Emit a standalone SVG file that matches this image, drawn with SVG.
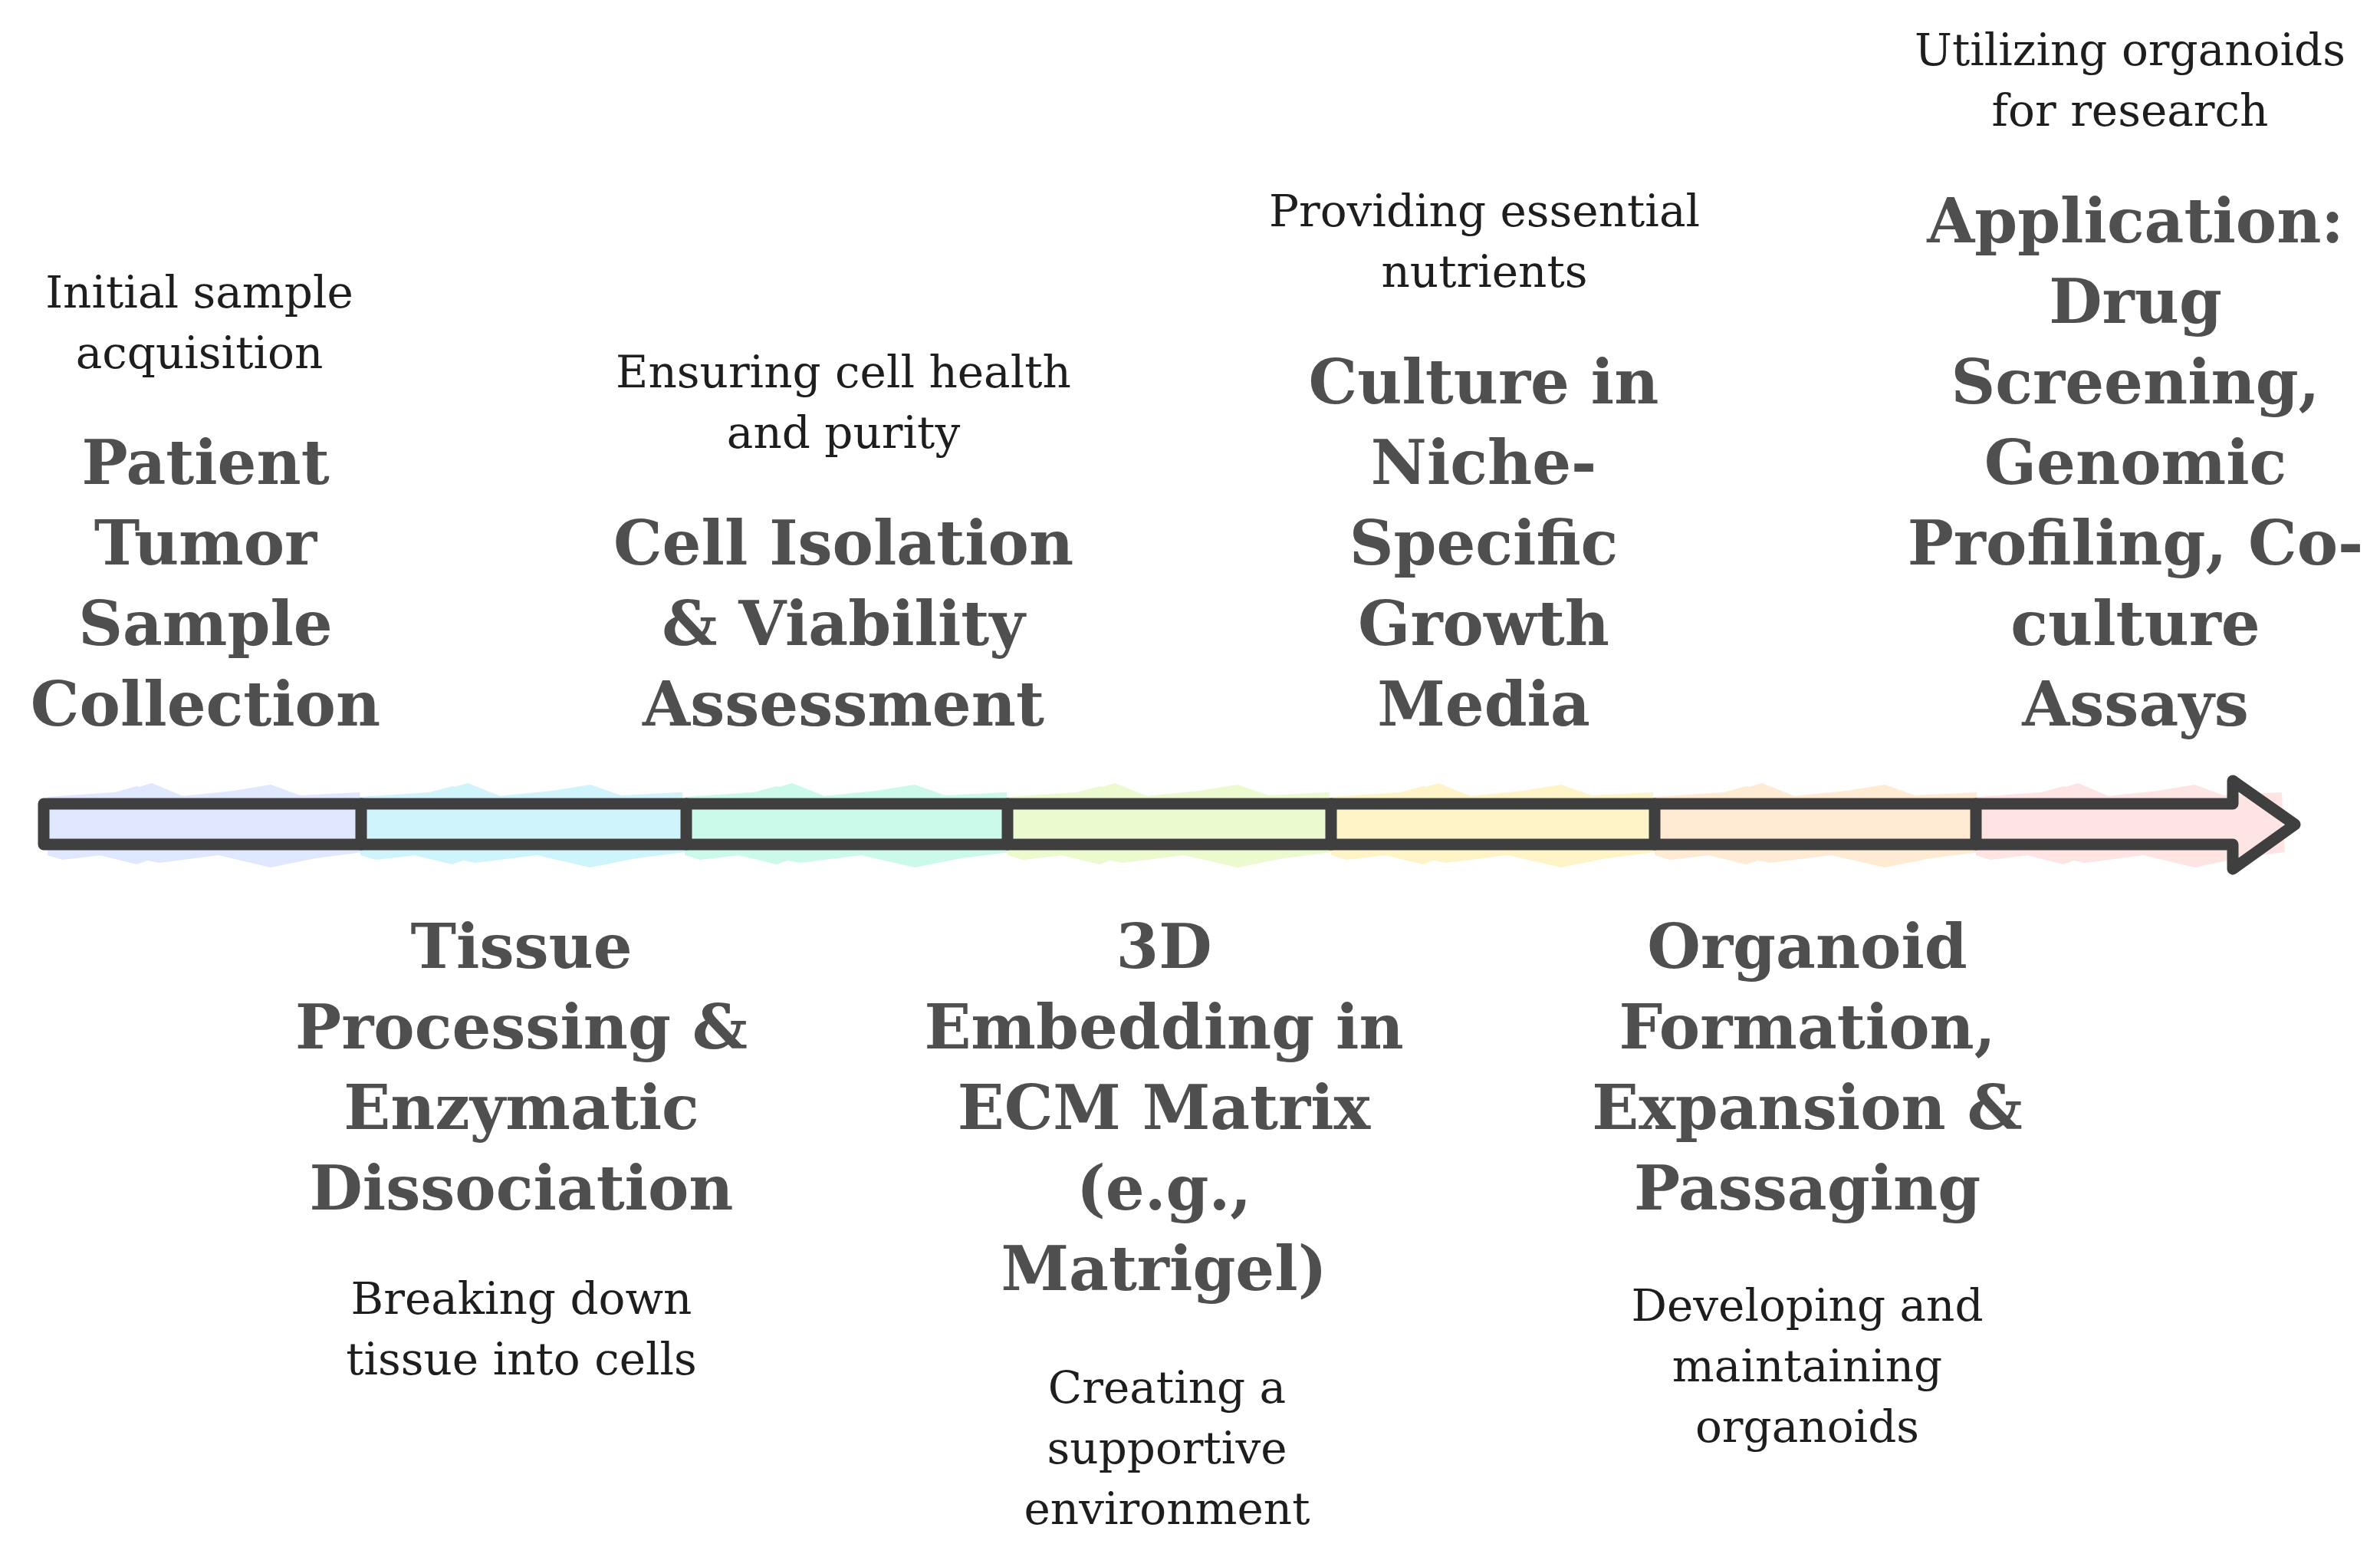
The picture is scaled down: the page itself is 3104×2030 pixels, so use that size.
<svg xmlns="http://www.w3.org/2000/svg" xmlns:xlink="http://www.w3.org/1999/xlink" width="3104" height="2030" viewBox="0 0 3104 2030">
<defs>
<style>
.t{font-family:"DejaVu Serif","Liberation Serif",serif;font-weight:bold;font-size:80px;fill:#4f4f4f;text-anchor:middle}
.s{font-family:"DejaVu Serif","Liberation Serif",serif;font-size:58px;fill:#1e1e1e;text-anchor:middle}
.bar{fill:none;stroke:#3f3f3f;stroke-width:15;stroke-linejoin:round;stroke-linecap:round}
.blob{opacity:0.85}
</style>
<g id="blob">
<polygon points="0,-36 90,-42 120,-50 170,-36 250,-44 300,-52 340,-38 420,-42 424,36 360,44 300,56 230,40 150,50 90,38 20,46 0,40"/>
<polygon points="60,-30 140,-54 200,-30 180,30 120,52 70,40"/>
</g>
</defs>
<rect width="3104" height="2030" fill="#ffffff"/>
<g id="connectors">
<g class="blob">
<use xlink:href="#blob" transform="translate(62,1075) scale(0.97,1)" fill="#dbe4ff"/>
<use xlink:href="#blob" transform="translate(470,1075)" fill="#c8f3fb"/>
<use xlink:href="#blob" transform="translate(893,1075)" fill="#c3fae8"/>
<use xlink:href="#blob" transform="translate(1314,1075)" fill="#e9fac8"/>
<use xlink:href="#blob" transform="translate(1736,1075)" fill="#fff3bf"/>
<use xlink:href="#blob" transform="translate(2158,1075)" fill="#ffe8cc"/>
<use xlink:href="#blob" transform="translate(2577,1075) scale(0.95,1)" fill="#ffe0e0"/>
</g>
<path class="bar" d="M57,1048 H2912 V1018 L2993,1075 L2912,1133 V1101 H57 Z"/>
<path class="bar" d="M471,1048 V1101 M895,1048 V1101 M1314,1048 V1101 M1736,1048 V1101 M2158,1048 V1101 M2577,1048 V1101"/>
</g>
<g id="node-1">
<text class="s"><tspan x="260" y="401">Initial sample</tspan><tspan x="260" y="480">acquisition</tspan></text>
<text class="t"><tspan x="268" y="631">Patient</tspan><tspan x="268" y="736">Tumor</tspan><tspan x="268" y="841">Sample</tspan><tspan x="268" y="946">Collection</tspan></text>
</g>
<g id="node-2">
<text class="t"><tspan x="680" y="1262">Tissue</tspan><tspan x="680" y="1367">Processing &amp;</tspan><tspan x="680" y="1472">Enzymatic</tspan><tspan x="680" y="1577">Dissociation</tspan></text>
<text class="s"><tspan x="680" y="1713">Breaking down</tspan><tspan x="680" y="1792">tissue into cells</tspan></text>
</g>
<g id="node-3">
<text class="s"><tspan x="1100" y="505">Ensuring cell health</tspan><tspan x="1100" y="584">and purity</tspan></text>
<text class="t"><tspan x="1100" y="736">Cell Isolation</tspan><tspan x="1100" y="841">&amp; Viability</tspan><tspan x="1100" y="946">Assessment</tspan></text>
</g>
<g id="node-4">
<text class="t"><tspan x="1518" y="1262">3D</tspan><tspan x="1518" y="1367">Embedding in</tspan><tspan x="1518" y="1472">ECM Matrix</tspan><tspan x="1518" y="1577">(e.g.,</tspan><tspan x="1518" y="1682">Matrigel)</tspan></text>
<text class="s"><tspan x="1522" y="1829">Creating a</tspan><tspan x="1522" y="1908">supportive</tspan><tspan x="1522" y="1987">environment</tspan></text>
</g>
<g id="node-5">
<text class="s"><tspan x="1936" y="295">Providing essential</tspan><tspan x="1936" y="374">nutrients</tspan></text>
<text class="t"><tspan x="1935" y="526">Culture in</tspan><tspan x="1935" y="631">Niche-</tspan><tspan x="1935" y="736">Specific</tspan><tspan x="1935" y="841">Growth</tspan><tspan x="1935" y="946">Media</tspan></text>
</g>
<g id="node-6">
<text class="t"><tspan x="2357" y="1262">Organoid</tspan><tspan x="2357" y="1367">Formation,</tspan><tspan x="2357" y="1472">Expansion &amp;</tspan><tspan x="2357" y="1577">Passaging</tspan></text>
<text class="s"><tspan x="2357" y="1722">Developing and</tspan><tspan x="2357" y="1801">maintaining</tspan><tspan x="2357" y="1880">organoids</tspan></text>
</g>
<g id="node-7">
<text class="s"><tspan x="2778" y="85">Utilizing organoids</tspan><tspan x="2778" y="164">for research</tspan></text>
<text class="t"><tspan x="2785" y="316">Application:</tspan><tspan x="2785" y="421">Drug</tspan><tspan x="2785" y="526">Screening,</tspan><tspan x="2785" y="631">Genomic</tspan><tspan x="2785" y="736">Profiling, Co-</tspan><tspan x="2785" y="841">culture</tspan><tspan x="2785" y="946">Assays</tspan></text>
</g>
</svg>
